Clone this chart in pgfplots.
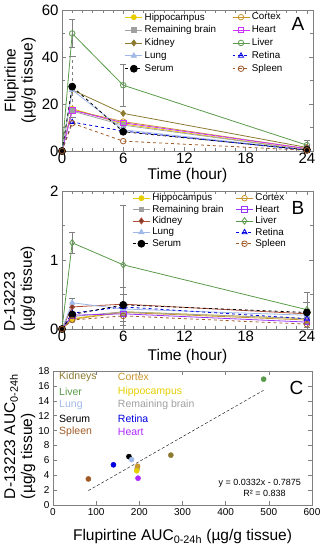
\documentclass[border=0pt]{standalone}
\usepackage{pgfplots}
\pgfplotsset{compat=1.18}
\usepackage{fontspec}
\setmainfont{Liberation Sans}
\definecolor{hippo}{HTML}{E6CE00}
\definecolor{rembr}{HTML}{A0A0A0}
\definecolor{kidA}{HTML}{8C7A30}
\definecolor{kidB}{HTML}{B0503A}
\definecolor{lung}{HTML}{A0B8E8}
\definecolor{cortex}{HTML}{C8962E}
\definecolor{heartA}{HTML}{CC33FF}
\definecolor{heartB}{HTML}{9933FF}
\definecolor{liver}{HTML}{5A9A4A}
\definecolor{retina}{HTML}{0000E0}
\definecolor{spleen}{HTML}{A05A28}
\definecolor{frame}{HTML}{808080}
\pgfplotsset{
  base/.style={scale only axis, clip=false,
    axis line style={frame}, tick style={frame, thin},
    tick align=inside,
    /pgf/number format/assume math mode=true,
    ticklabel style={font=\fontsize{15bp}{17bp}\selectfont},
    label style={font=\fontsize{15.5bp}{17bp}\selectfont},
    error bars/error bar style={frame, thin},
  },
  timeaxis/.style={base, width=251bp, xmin=0, xmax=24.6,
    xtick={0,6,12,18,24}, minor x tick num=5,
    xlabel={Time (hour)},
    xticklabel style={yshift=1bp},
    legend columns=2,
    legend cell align=left,
    legend style={draw=none, fill=none, font=\fontsize{9.8bp}{10.5bp}\selectfont,
      inner sep=0pt},
  },
}
\begin{document}
\begin{tikzpicture}
\useasboundingbox (0,0) rectangle (323bp,-550bp);
% ---------------- Panel A
\begin{axis}[timeaxis, at={(62bp,-151bp)}, anchor=south west, height=141bp,
  ymin=0, ymax=60, ytick={0,20,40,60}, minor y tick num=1,
  ylabel={Flupirtine\\(µg/g tissue)}, ylabel style={align=center, at={(axis description cs:-0.167,0.5)}, anchor=center},
  xlabel style={at={(axis description cs:0.5,-0.175)}, anchor=center},
  legend style={at={(0.25,0.995)}, anchor=north west,
    /tikz/every even column/.append style={column sep=14bp}, row sep=0.3bp}]
\addplot[hippo, thick, mark=*, mark size=2.5, mark options={fill=hippo}] coordinates {(0,0)(1,18)(6,11.5)(24,0.5)};
\addlegendentry{Hippocampus}
\addplot[cortex, thick, mark=o, mark size=2.8, mark options={fill=white}] coordinates {(0,0)(1,17.5)(6,12.5)(24,1.0)};
\addlegendentry{Cortex}
\addplot[rembr, thick, mark=square*, mark size=2.3, mark options={fill=rembr}] coordinates {(0,0)(1,17)(6,11)(24,0.5)};
\addlegendentry{Remaining brain}
\addplot[heartA, thick, mark=square, mark size=2.8, mark options={fill=white}] coordinates {(0,0)(1,17.4)(6,12)(24,1.0)};
\addlegendentry{Heart}
\addplot[kidA, thick, mark=diamond*, mark size=3, mark options={fill=kidA}] coordinates {(0,0)(1,26)(6,16)(24,1.5)};
\addlegendentry{Kidney}
\addplot[liver, thick, mark=o, mark size=2.8, mark options={fill=white},
  error bars/.cd, y dir=both, y explicit] coordinates {(0,0)(1,50)+-(0,6)(6,28)+-(0,9)(24,2.5)+-(0,2)};
\addlegendentry{Liver}
\addplot[lung, thick, mark=triangle*, mark size=3, mark options={fill=lung}] coordinates {(0,0)(1,26)(6,9)(24,0.5)};
\addlegendentry{Lung}
\addplot[retina, thick, dashed, mark=triangle, mark size=3, mark options={solid, fill=white}] coordinates {(0,0)(1,12.3)(6,8.5)(24,0.3)};
\addlegendentry{Retina}
\addplot[black, thick, dashed, mark=*, mark size=3.5, mark options={solid, fill=black},
  error bars/.cd, y dir=both, y explicit] coordinates {(0,0)(1,27.4)+-(0,13)(6,8.2)(24,0.5)};
\addlegendentry{Serum}
\addplot[spleen, thick, dashed, mark=o, mark size=2.8, mark options={solid, fill=white}] coordinates {(0,0)(1,11.8)(6,4.2)(24,0.3)};
\addlegendentry{Spleen}
\node[font=\fontsize{19bp}{21bp}\selectfont] at (rel axis cs:0.94,0.9) {A};
\end{axis}
% ---------------- Panel B
\begin{axis}[timeaxis, at={(62bp,-329bp)}, anchor=south west, height=138bp,
  ymin=0, ymax=2, ytick={0,1,2}, minor y tick num=1,
  ylabel={\begin{tabular}{@{}l@{}}D-13223\\(µg/g tissue)\end{tabular}}, ylabel style={at={(axis description cs:-0.167,0.29)}, anchor=center},
  xlabel style={at={(axis description cs:0.5,-0.2)}, anchor=center},
  legend style={at={(0.28,0.995)}, anchor=north west,
    /tikz/every even column/.append style={column sep=10bp}, row sep=-1.2bp}]
\addplot[hippo, thick, mark=*, mark size=2.5, mark options={fill=hippo}] coordinates {(0,0)(1,0.15)(6,0.25)(24,0.15)};
\addlegendentry{Hippocampus}
\addplot[cortex, thick, mark=o, mark size=2.8, mark options={fill=white}] coordinates {(0,0)(1,0.14)(6,0.24)(24,0.13)};
\addlegendentry{Cortex}
\addplot[rembr, thick, mark=square*, mark size=2.3, mark options={fill=rembr}] coordinates {(0,0)(1,0.18)(6,0.25)(24,0.15)};
\addlegendentry{Remaining brain}
\addplot[heartB, thick, mark=square, mark size=2.8, mark options={fill=white}] coordinates {(0,0)(1,0.2)(6,0.22)(24,0.1)};
\addlegendentry{Heart}
\addplot[kidB, thick, mark=diamond*, mark size=3, mark options={fill=kidB!70!black},
  error bars/.cd, y dir=both, y explicit] coordinates {(0,0)(1,0.32)(6,0.36)+-(0,0.25)(24,0.22)};
\addlegendentry{Kidney}
\addplot[liver, thick, mark=diamond, mark size=3.2, mark options={fill=white},
  error bars/.cd, y dir=both, y explicit] coordinates {(0,0)(1,1.25)+-(0,0.15)(6,0.93)+-(0,0.87)(24,0.28)+-(0,0.25)};
\addlegendentry{Liver}
\addplot[lung, thick, mark=triangle*, mark size=3, mark options={fill=lung},
  error bars/.cd, y dir=both, y explicit] coordinates {(0,0)(1,0.38)+-(0,0.07)(6,0.29)(24,0.2)};
\addlegendentry{Lung}
\addplot[retina, thick, dashed, mark=triangle, mark size=3, mark options={solid, fill=white}] coordinates {(0,0)(1,0.23)(6,0.32)(24,0.15)};
\addlegendentry{Retina}
\addplot[black, thick, dashed, mark=*, mark size=3.5, mark options={solid, fill=black},
  error bars/.cd, y dir=both, y explicit] coordinates {(0,0)(1,0.21)(6,0.35)+-(0,0.15)(24,0.24)+-(0,0.15)};
\addlegendentry{Serum}
\addplot[spleen, thick, dashed, mark=o, mark size=2.8, mark options={solid, fill=white}] coordinates {(0,0)(1,0.13)(6,0.19)(24,0.07)};
\addlegendentry{Spleen}
\node[font=\fontsize{19bp}{21bp}\selectfont] at (rel axis cs:0.94,0.88) {B};
\end{axis}
% ---------------- Panel C
\begin{axis}[base, at={(53bp,-505bp)}, anchor=south west, width=259bp, height=134bp,
  xmin=0, xmax=600, ymin=0, ymax=18,
  xtick={0,100,...,600}, ytick={0,2,...,18},
  ticklabel style={font=\fontsize{10bp}{12bp}\selectfont},
  xlabel={Flupirtine AUC\textsubscript{0-24h} (µg/g tissue)},
  ylabel={\begin{tabular}{@{}l@{}}D-13223 AUC\textsubscript{0-24h}\\(µg/g tissue)\end{tabular}},
  ylabel style={at={(axis description cs:-0.127,0.51)}, anchor=center},
  xlabel style={at={(axis description cs:0.5,-0.232)}, anchor=center}]
\addplot[black, densely dashed, thin] coordinates {(82,1.935)(488,15.414)};
\addplot[only marks, mark=*, mark size=2.6, color=spleen] coordinates {(82,3.5)};
\addplot[only marks, mark=*, mark size=2.6, color=retina] coordinates {(140,5.4)};
\addplot[only marks, mark=*, mark size=2.6, color=black] coordinates {(176,6.5)};
\addplot[only marks, mark=*, mark size=2.6, color=lung] coordinates {(182,6.1)};
\addplot[only marks, mark=*, mark size=2.6, color=rembr] coordinates {(195,4.9)};
\addplot[only marks, mark=*, mark size=2.6, color=cortex] coordinates {(196,5.2)};
\addplot[only marks, mark=*, mark size=2.6, color=hippo] coordinates {(194,4.6)};
\addplot[only marks, mark=*, mark size=2.6, color=heartB!80!magenta] coordinates {(197,3.6)};
\addplot[only marks, mark=*, mark size=2.6, color=kidA] coordinates {(273,6.7)};
\addplot[only marks, mark=*, mark size=2.6, color=liver] coordinates {(488,16.9)};
\begin{scope}[every node/.style={anchor=west, font=\fontsize{10.5bp}{12bp}\selectfont, inner sep=0pt}]
\node[text=kidA] at (axis cs:14,17.2) {Kidneys};
\node[text=liver] at (axis cs:14,15.2) {Liver};
\node[text=lung] at (axis cs:14,13.4) {Lung};
\node[text=black] at (axis cs:14,11.6) {Serum};
\node[text=spleen] at (axis cs:14,9.8) {Spleen};
\node[text=cortex] at (axis cs:150,17.2) {Cortex};
\node[text=hippo] at (axis cs:150,15.2) {Hippocampus};
\node[text=rembr] at (axis cs:150,13.4) {Remaining brain};
\node[text=retina] at (axis cs:150,11.6) {Retina};
\node[text=heartB!80!magenta] at (axis cs:150,9.8) {Heart};
\end{scope}
\node[anchor=east, font=\fontsize{9bp}{11bp}\selectfont, inner sep=0pt] at (axis cs:575,2.95) {y = 0.0332x - 0.7875};
\node[font=\fontsize{9bp}{11bp}\selectfont, inner sep=0pt] at (axis cs:490,1.5) {R² = 0.838};
\node[font=\fontsize{19bp}{21bp}\selectfont] at (rel axis cs:0.94,0.87) {C};
\end{axis}
\end{tikzpicture}
\end{document}
